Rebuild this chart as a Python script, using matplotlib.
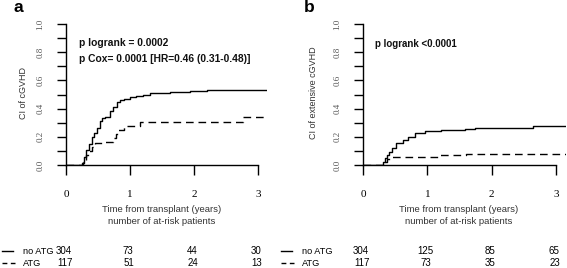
import matplotlib
matplotlib.use("Agg")
import matplotlib.pyplot as plt
import matplotlib.transforms as mtransforms

plt.rcParams['font.family'] = ['Liberation Sans', 'DejaVu Sans']

# panel a: cumulative incidence of cGVHD
a_noatg_t = [0, 0.19, 0.245, 0.28, 0.32, 0.36, 0.40, 0.44, 0.48, 0.53, 0.57, 0.61, 0.69, 0.74, 0.79, 0.85, 0.90, 1.00, 1.10, 1.20, 1.31, 1.63, 1.94, 2.20, 3.14]
a_noatg_y = [0, 0, 0.012, 0.06, 0.106, 0.15, 0.20, 0.23, 0.26, 0.31, 0.33, 0.34, 0.38, 0.41, 0.45, 0.46, 0.47, 0.48, 0.49, 0.50, 0.51, 0.515, 0.527, 0.535, 0.535]
a_atg_t = [0, 0.22, 0.27, 0.32, 0.36, 0.40, 0.45, 0.58, 0.74, 0.78, 0.82, 0.90, 1.16, 2.77, 3.12]
a_atg_y = [0, 0, 0.02, 0.07, 0.10, 0.13, 0.154, 0.165, 0.19, 0.22, 0.25, 0.277, 0.307, 0.337, 0.337]

# panel b: cumulative incidence of extensive cGVHD
b_noatg_t = [0, 0.24, 0.315, 0.34, 0.37, 0.41, 0.445, 0.52, 0.625, 0.70, 0.81, 0.96, 1.22, 1.58, 1.74, 2.64, 3.16]
b_noatg_y = [0, 0, 0.024, 0.05, 0.07, 0.095, 0.118, 0.154, 0.177, 0.20, 0.23, 0.243, 0.25, 0.254, 0.265, 0.278, 0.278]
b_atg_t = [0, 0.28, 0.33, 0.38, 0.42, 1.20, 1.60, 3.16]
b_atg_y = [0, 0, 0.02, 0.04, 0.059, 0.072, 0.08, 0.08]

risk_times = [0, 1, 2, 3]
a_risk_noatg = [304, 73, 44, 30]
a_risk_atg = [117, 51, 24, 13]
b_risk_noatg = [304, 125, 85, 65]
b_risk_atg = [117, 73, 35, 23]

y_major = [0.0, 0.2, 0.4, 0.6, 0.8, 1.0]
y_minor = [0.1, 0.3, 0.5, 0.7, 0.9]

W, H = 567, 268
fig = plt.figure(figsize=(W / 100, H / 100), dpi=100)

def fx(px):
    return px / W

def fy(py):
    return 1 - py / H

serif = ['Liberation Serif', 'DejaVu Serif']
dash = (0, (5.5, 3.5))


def panel(left, right_t, x_right_px, t1, y1, t2, y2, ylabel, ylab_x, letter, letter_x,
          ptexts, psize, risk1, risk2, tab_x):
    ax = fig.add_axes([fx(left), fy(165), fx(x_right_px - left), 141 / H])
    ax.plot(t1, y1, color='black', lw=1.0, drawstyle='steps-post')
    ax.plot(t2, y2, color='black', lw=1.0, drawstyle='steps-post', linestyle=dash)
    ax.set_xlim(0, right_t)
    ax.set_ylim(0, 1.0)
    for s in ['top', 'right']:
        ax.spines[s].set_visible(False)
    ax.spines['left'].set_bounds(0, 1.0)
    ax.spines['bottom'].set_bounds(0, 3)
    ax.spines['left'].set_linewidth(1.0)
    ax.spines['bottom'].set_linewidth(1.0)
    ax.set_xticks(risk_times)
    ax.set_xticklabels([str(t) for t in risk_times], family=serif, fontsize=8)
    ax.set_yticks(y_major)
    ax.set_yticks(y_minor, minor=True)
    ax.set_yticklabels(['%.1f' % v for v in y_major],
                       family=serif, fontsize=6.5, rotation=90, va='center', color='#555555')
    ax.tick_params(axis='x', length=7, width=1.0, pad=11)
    ax.tick_params(axis='y', which='both', length=6.5, width=1.0, pad=9)
    fig.text(fx(ylab_x), fy(93), ylabel, rotation=90, ha='center', va='center',
             fontsize=6.5, color='#333333')
    fig.text(fx(letter_x), fy(8), letter, fontsize=12.5, fontweight='bold', ha='left', va='center')
    for (px, py, s) in ptexts:
        fig.text(fx(px), fy(py), s, fontsize=psize, fontweight='bold', ha='left', va='center',
                 color='#111111')
    cx = fx(left + 96)
    fig.text(cx, fy(209), 'Time from transplant (years)', ha='center', va='center',
             fontsize=6.8, color='#333333')
    fig.text(cx, fy(222), 'number of at-risk patients', ha='center', va='center',
             fontsize=6.8, color='#333333')
    # risk table
    fig.add_artist(plt.Line2D([fx(tab_x), fx(tab_x + 11)], [fy(251), fy(251)],
                              color='black', lw=1.0))
    fig.add_artist(plt.Line2D([fx(tab_x), fx(tab_x + 13)], [fy(263), fy(263)],
                              color='black', lw=1.0, linestyle=(0, (3.5, 2.5))))
    fig.text(fx(tab_x + 21), fy(251), 'no ATG', ha='left', va='center', fontsize=6.6)
    fig.text(fx(tab_x + 21), fy(263), 'ATG', ha='left', va='center', fontsize=6.6)
    tr = mtransforms.blended_transform_factory(ax.transData, fig.transFigure)
    for t, n1, n2 in zip(risk_times, risk1, risk2):
        ax.text(t - 0.03, fy(251), str(n1), transform=tr, ha='center', va='center',
                fontsize=7, clip_on=False)
        ax.text(t - 0.02, fy(263), str(n2), transform=tr, ha='center', va='center',
                fontsize=7, clip_on=False)
    return ax


panel(66, 201 / 64.0, 267, a_noatg_t, a_noatg_y, a_atg_t, a_atg_y,
      'CI of cGVHD', 23, 'a', 14,
      [(79, 43, 'p logrank = 0.0002'), (79, 59, 'p Cox= 0.0001 [HR=0.46 (0.31-0.48)]')], 7.4,
      a_risk_noatg, a_risk_atg, 2)

panel(363, 203 / 64.3, 566, b_noatg_t, b_noatg_y, b_atg_t, b_atg_y,
      'CI of extensive cGVHD', 313, 'b', 304,
      [(375, 44, 'p logrank <0.0001')], 7.0,
      b_risk_noatg, b_risk_atg, 281)

fig.savefig('out.png', dpi=100)
